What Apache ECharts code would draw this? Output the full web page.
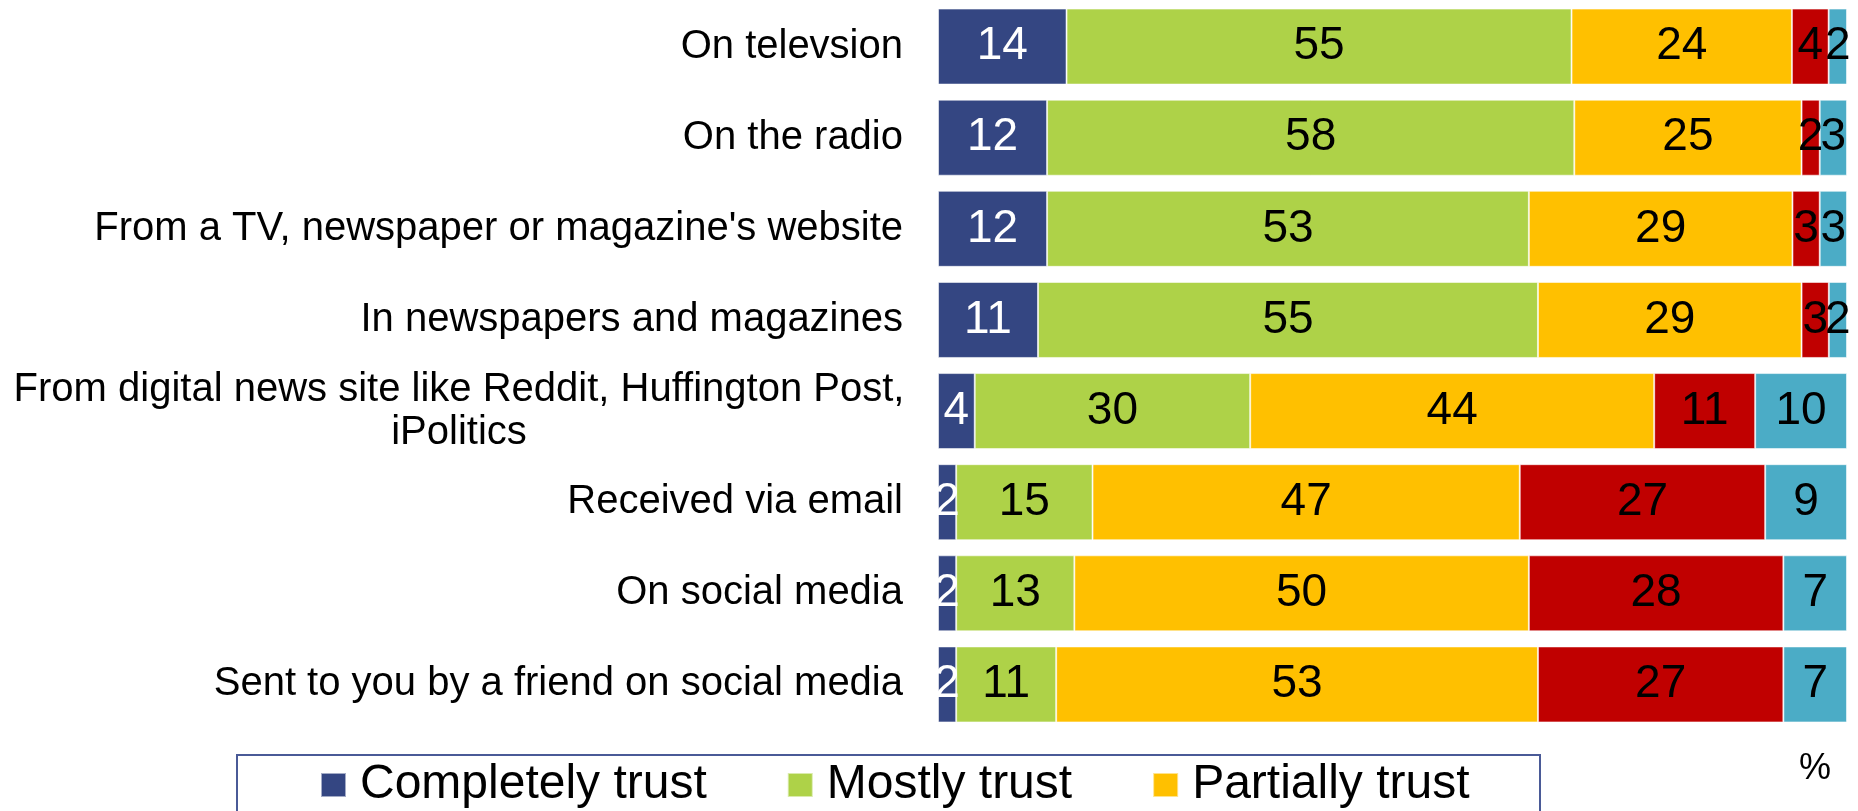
<!DOCTYPE html>
<html>
<head>
<meta charset="utf-8">
<script src="https://cdn.jsdelivr.net/npm/echarts@6/dist/echarts.min.js"></script>
<style>
  html, body { margin: 0; padding: 0; background: #ffffff; }
  #chart { width: 1858px; height: 811px; }
</style>
</head>
<body>
<div id="chart"></div>
<script>
const categories = [
  'On televsion',
  'On the radio',
  "From a TV, newspaper or magazine's website",
  'In newspapers and magazines',
  'From digital news site like Reddit, Huffington Post, iPolitics',
  'Received via email',
  'On social media',
  'Sent to you by a friend on social media'
];
const seriesNames = ['Completely trust', 'Mostly trust', 'Partially trust', 'Do not trust', "Don't know"];
const completelyTrust = [14, 12, 12, 11, 4, 2, 2, 2];
const mostlyTrust     = [55, 58, 53, 55, 30, 15, 13, 11];
const partiallyTrust  = [24, 25, 29, 29, 44, 47, 50, 53];
const doNotTrust      = [4, 2, 3, 3, 11, 27, 28, 27];
const dontKnow        = [2, 3, 3, 2, 10, 9, 7, 7];
const legendShown = ['Completely trust', 'Mostly trust', 'Partially trust'];
const percentSign = '%';

const colors = ['#344682', '#AED248', '#FFC000', '#C00000', '#4BACC6'];
const labelColors = ['#ffffff', '#000000', '#000000', '#000000', '#000000'];
const FONT = "'Liberation Sans', Arial, sans-serif";

const allValues = [completelyTrust, mostlyTrust, partiallyTrust, doNotTrust, dontKnow];
const rowTotals = categories.map((c, i) => allValues.reduce((s, arr) => s + arr[i], 0));

const series = allValues.map((arr, si) => ({
  name: seriesNames[si],
  type: 'bar',
  stack: 'total',
  barWidth: 76,
  data: arr.map((v, i) => v / rowTotals[i] * 100),
  itemStyle: { color: colors[si], borderColor: 'rgba(255,255,255,0.55)', borderWidth: 1 },
  label: {
    show: true,
    position: 'inside',
    formatter: p => String(allValues[si][p.dataIndex]),
    color: labelColors[si],
    fontSize: 46,
    fontFamily: FONT
  },
  emphasis: { disabled: true }
}));

const chart = echarts.init(document.getElementById('chart'), null, { renderer: 'canvas' });
chart.setOption({
  animation: false,
  backgroundColor: '#ffffff',
  grid: { left: 938, right: 11, top: 1, bottom: 81, containLabel: false },
  xAxis: { type: 'value', min: 0, max: 100, show: false },
  yAxis: {
    type: 'category',
    inverse: true,
    data: categories,
    axisLine: { show: false },
    axisTick: { show: false },
    splitLine: { show: false },
    axisLabel: {
      margin: 35,
      fontSize: 40,
      color: '#000000',
      fontFamily: FONT,
      align: 'right',
      formatter: v => {
        if (v.indexOf('Huffington') >= 0) {
          return '{c|From digital news site like Reddit, Huffington Post,}\n{c|iPolitics}';
        }
        return v;
      },
      rich: {
        c: { width: 888, align: 'center', fontSize: 40, lineHeight: 43, color: '#000000', fontFamily: FONT }
      }
    }
  },
  legend: {
    data: legendShown,
    left: 320,
    top: 761,
    padding: 0,
    itemWidth: 25,
    itemHeight: 24,
    itemGap: 80,
    icon: 'rect',
    selectedMode: false,
    textStyle: { fontSize: 48, color: '#000000', fontFamily: FONT, padding: [0, 0, 0, 9] }
  },
  graphic: [
    {
      type: 'rect',
      shape: { x: 237, y: 755, width: 1303, height: 120 },
      style: { fill: 'none', stroke: '#4a5a97', lineWidth: 2 },
      silent: true
    },
    {
      type: 'text',
      x: 1815,
      y: 769,
      style: { text: percentSign, fill: '#000000', font: '36px ' + FONT, align: 'center', verticalAlign: 'middle' },
      silent: true
    }
  ],
  series: series
});
</script>
</body>
</html>
